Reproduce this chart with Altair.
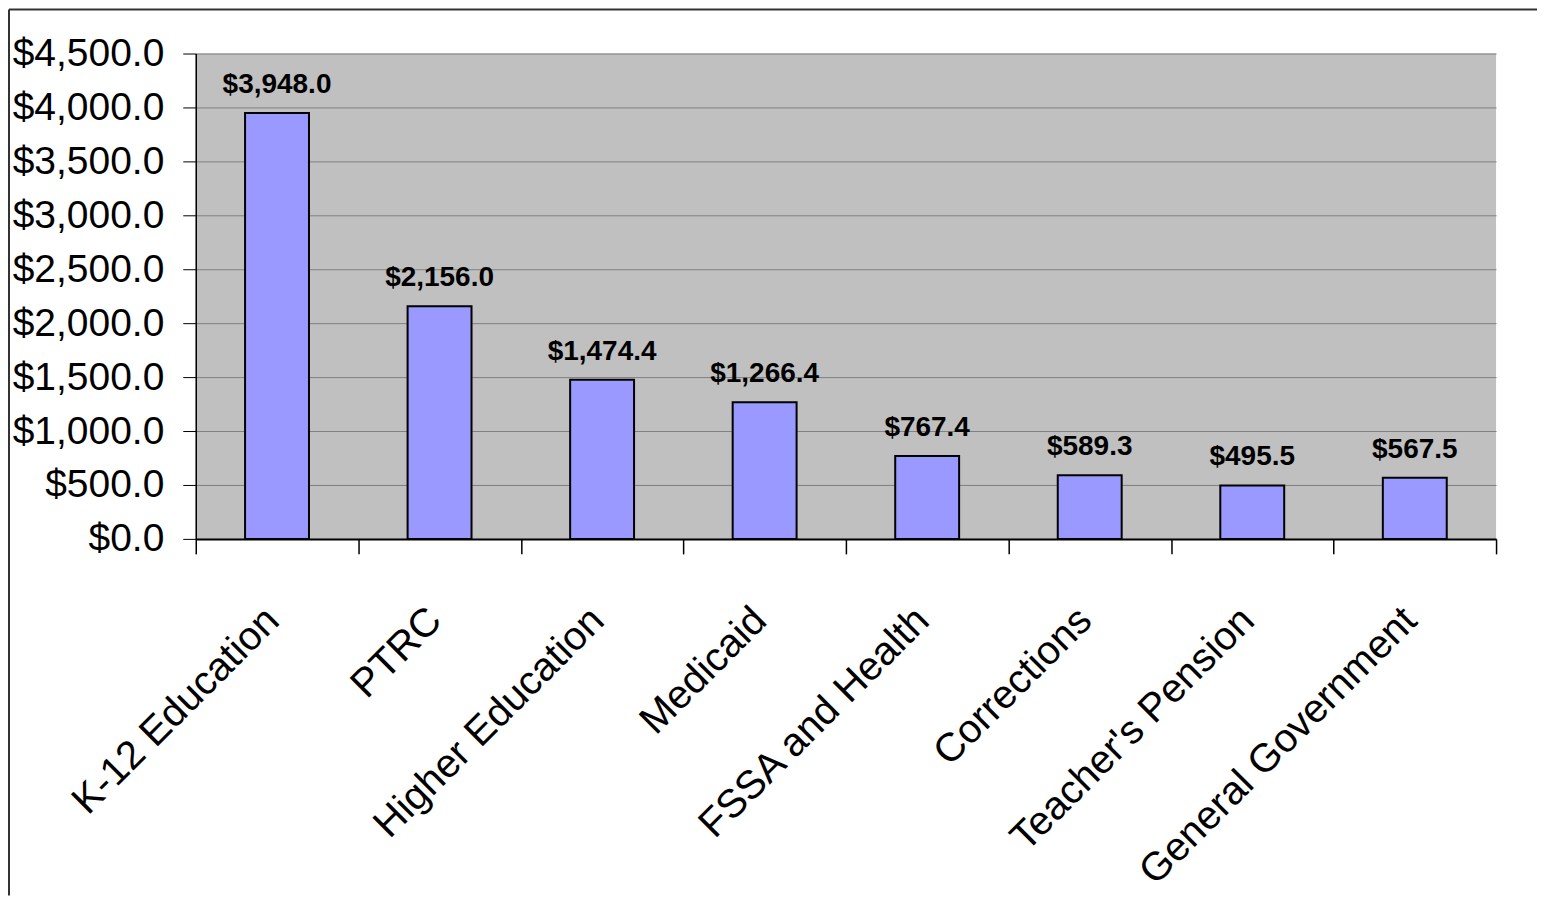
import altair as alt
import pandas as pd

categories = ["K-12 Education", "PTRC", "Higher Education", "Medicaid",
              "FSSA and Health", "Corrections", "Teacher's Pension", "General Government"]
values = [3948.0, 2156.0, 1474.4, 1266.4, 767.4, 589.3, 495.5, 567.5]
y_ticks = [0, 500, 1000, 1500, 2000, 2500, 3000, 3500, 4000, 4500]

df = pd.DataFrame({"category": categories, "value": values})

FONT = "Liberation Sans"
W, H = 1302, 486

x_enc = alt.X("category:N", sort=None, title=None,
              scale=alt.Scale(paddingInner=0, paddingOuter=0),
              axis=alt.Axis(labelAngle=-45, labelFontSize=40, labelFont=FONT,
                            labelColor="black", tickBand="extent", tickSize=15,
                            tickColor="black", tickWidth=1.5, domainColor="black",
                            domainWidth=2, labelPadding=46, labelOffset=-19,
                            labelLimit=600))
y_enc = alt.Y("value:Q", title=None,
              scale=alt.Scale(domain=[0, 4500], nice=False),
              axis=alt.Axis(values=y_ticks, format="$,.1f", labelFontSize=39,
                            labelFont=FONT, labelColor="black", tickSize=13,
                            tickColor="black", domainColor="black", domainWidth=1.5,
                            labelPadding=19, grid=True, gridColor="#808080",
                            gridWidth=1))

bars = alt.Chart(df).mark_bar(size=64, color="#9999FF", stroke="black",
                              strokeWidth=2).encode(x=x_enc, y=y_enc)

labels = alt.Chart(df).mark_text(font=FONT, fontSize=28, fontWeight="bold",
                                 color="black", baseline="alphabetic", dy=-20).encode(
    x=alt.X("category:N", sort=None),
    y=alt.Y("value:Q"),
    text=alt.Text("value:Q", format="$,.1f"))

border_data = alt.Data(values=[{"k": 0}])
left_border = alt.Chart(border_data).mark_rule(color="#333333", strokeWidth=2).encode(
    x=alt.value(-187), y=alt.value(-44), y2=alt.value(843))
top_border = alt.Chart(border_data).mark_rule(color="#333333", strokeWidth=2).encode(
    x=alt.value(-187), x2=alt.value(1343), y=alt.value(-44))

chart = alt.layer(bars, labels, left_border, top_border).properties(
    width=W, height=H, padding=0
).configure_view(fill="#C0C0C0", stroke=None)

chart.save("out.html", embed_options={"renderer": "svg", "actions": False})
